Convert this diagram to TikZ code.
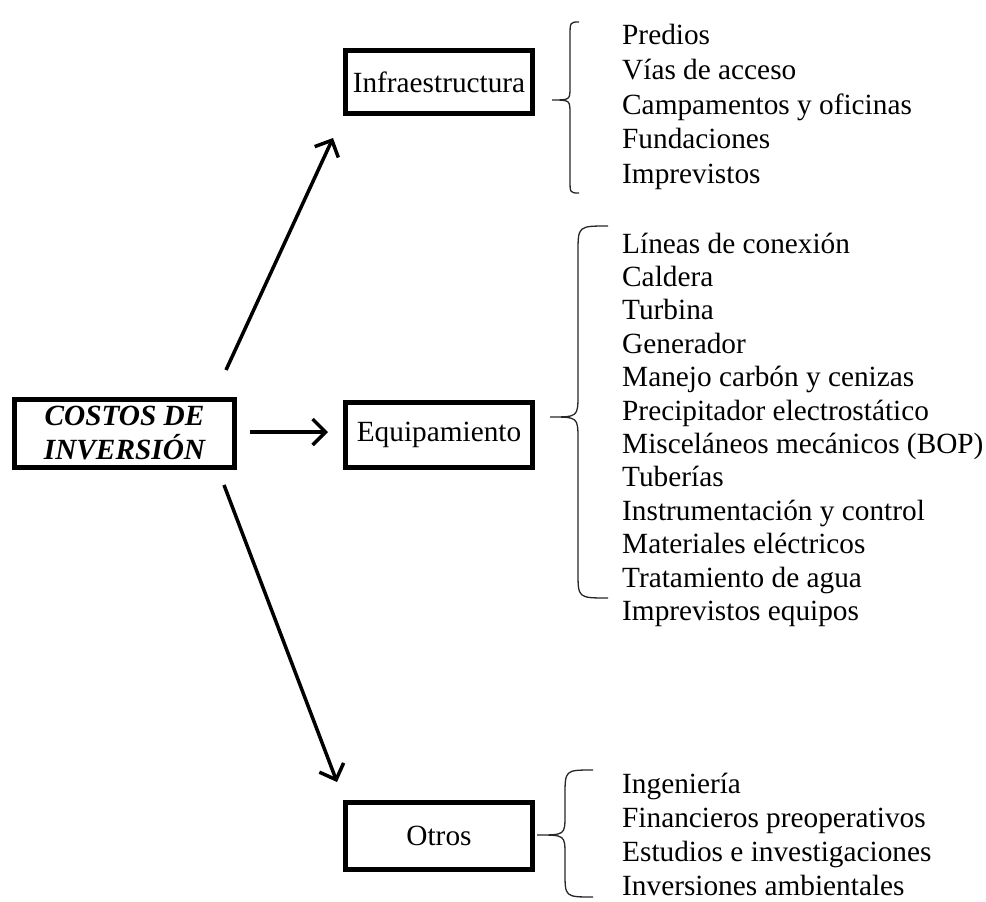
\documentclass[tikz,border=0pt]{standalone}
\usepackage{fontspec}
\setmainfont{Liberation Serif}
\usetikzlibrary{arrows.meta}
\begin{document}
\begin{tikzpicture}[x=1pt,y=-1pt,
  box/.style={draw, line width=5pt, minimum width=187pt, inner sep=0pt,
    font=\fontsize{29.3}{34}\selectfont},
  mainbox/.style={draw, line width=5pt, minimum width=220pt, minimum height=68pt,
    inner sep=0pt, align=center, font=\fontsize{29.3}{34}\selectfont\bfseries\itshape},
  conn/.style={line width=3.5pt, -{Straight Barb[length=13pt,width=26pt]}},
  brace/.style={line width=1.3pt, draw=black!85},
  item/.style={anchor=base west, inner sep=0pt, font=\fontsize{29.3}{34}\selectfont}]
\useasboundingbox (0,0) rectangle (986,902);

% boxes
\node[mainbox] (main) at (124.5,433.5) {COSTOS DE\\INVERSIÓN};
\node[box, minimum height=63pt] (infra) at (439,82) {Infraestructura};
\node[box, minimum height=65pt] (equip) at (439,435) {Equipamiento};
\node[box, minimum height=67pt] (otros) at (439,836) {Otros};

% arrow end points
\coordinate (a1s) at (226,370);
\coordinate (a1e) at (333,138);
\coordinate (a2s) at (250,432);
\coordinate (a2e) at (328,432);
\coordinate (a3s) at (224,485);
\coordinate (a3e) at (337,782);
\draw[conn] (a1s) -- (a1e);
\draw[conn] (a2s) -- (a2e);
\draw[conn] (a3s) -- (a3e);

% braces
\draw[brace] (579,22) .. controls (570,22) .. (570,37) -- (570,87)
  .. controls (570,100) .. (552,100) .. controls (570,100) .. (570,114)
  -- (570,179) .. controls (570,193) .. (579,193);
\draw[brace] (608,226) .. controls (578,226) .. (578,253) -- (578,394)
  .. controls (578,417) .. (550,417) .. controls (578,417) .. (578,440)
  -- (578,572) .. controls (578,598) .. (608,598);
\draw[brace] (593,770) .. controls (565,770) .. (565,796) -- (565,815)
  .. controls (565,835) .. (537,835) .. controls (565,835) .. (565,855)
  -- (565,872) .. controls (565,897) .. (593,897);

% lists
\foreach \t [count=\i from 0] in {Predios,Vías de acceso,Campamentos y oficinas,Fundaciones,Imprevistos}
  \node[item] (i\i) at (622,45+34.5*\i) {\t};
\foreach \t [count=\i from 0] in {Líneas de conexión,Caldera,Turbina,Generador,Manejo carbón y cenizas,Precipitador electrostático,Misceláneos mecánicos (BOP),Tuberías,Instrumentación y control,Materiales eléctricos,Tratamiento de agua,Imprevistos equipos}
  \node[item] (e\i) at (622,253+33.4*\i) {\t};
\foreach \t [count=\i from 0] in {Ingeniería,Financieros preoperativos,Estudios e investigaciones,Inversiones ambientales}
  \node[item] (o\i) at (622,793+34*\i) {\t};
\end{tikzpicture}
\end{document}
